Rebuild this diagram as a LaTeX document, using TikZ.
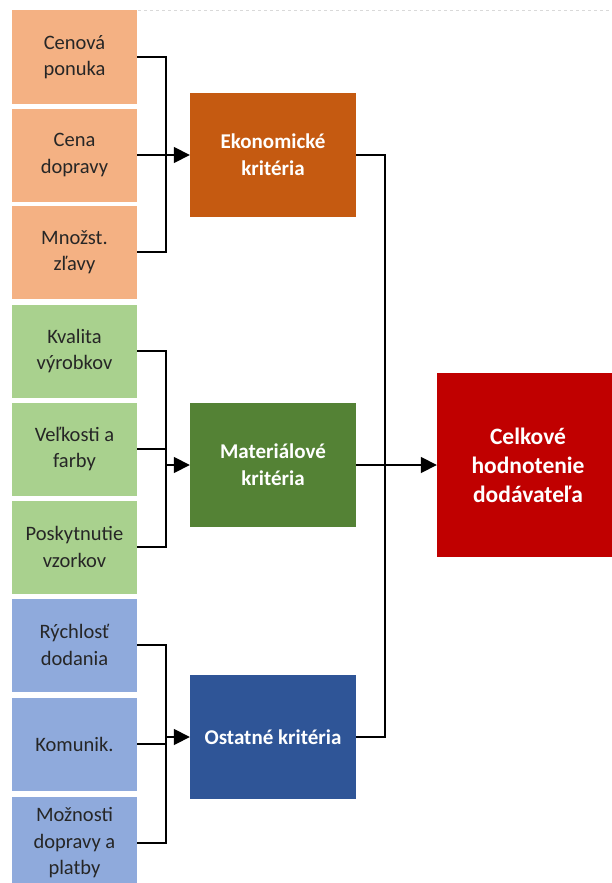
\documentclass[tikz,border=0pt]{standalone}
\usepackage{fontspec}
\setmainfont{Carlito}
\usepackage{tikz}
\usetikzlibrary{arrows.meta}
\definecolor{econlight}{HTML}{F4B183}
\definecolor{matlight}{HTML}{A9D18E}
\definecolor{othlight}{HTML}{8FAADC}
\definecolor{econdark}{HTML}{C55A11}
\definecolor{matdark}{HTML}{548235}
\definecolor{othdark}{HTML}{2F5597}
\definecolor{totalred}{HTML}{C00000}

\begin{document}
\begin{tikzpicture}
	[x=1pt,y=-1pt,
	 leaf/.style={minimum width=125pt,minimum height=93pt,inner sep=0pt,align=center,
	   text=black!85,font=\fontsize{20.5}{26.5}\selectfont},
	 crit/.style={minimum width=166pt,minimum height=124pt,inner sep=0pt,align=center,
	   text=white,font=\fontsize{21}{27}\selectfont\bfseries},
	 wire/.style={line width=1.7pt},
	 tip/.style={wire,-{Triangle[length=16pt,width=16pt]}}]
\useasboundingbox (0,0) rectangle (611,883);
\fill[white] (0,0) rectangle (611,883);
% faint page edge
\draw[black!15,dashed,line width=0.6pt] (12,10) -- (611,10);
% left column
\node[leaf,fill=econlight] (c1) at (74.5,57) {Cenová\\ponuka};
\node[leaf,fill=econlight] (c2) at (74.5,155) {Cena\\dopravy};
\node[leaf,fill=econlight] (c3) at (74.5,252) {Množst.\\zľavy};
\node[leaf,fill=matlight] (c4) at (74.5,351) {Kvalita\\výrobkov};
\node[leaf,fill=matlight] (c5) at (74.5,449) {Veľkosti a\\farby};
\node[leaf,fill=matlight] (c6) at (74.5,547) {Poskytnutie\\vzorkov};
\node[leaf,fill=othlight] (c7) at (74.5,645) {Rýchlosť\\dodania};
\node[leaf,fill=othlight] (c8) at (74.5,744) {Komunik.};
\node[leaf,fill=othlight] (c9) at (74.5,843) {Možnosti\\dopravy a\\platby};
% middle column
\node[crit,fill=econdark] (econ) at (273,155) {Ekonomické\\kritéria};
\node[crit,fill=matdark] (mat) at (273,465) {Materiálové\\kritéria};
\node[crit,fill=othdark] (oth) at (273,737) {Ostatné kritéria};
% result
\node[crit,fill=totalred,minimum width=182pt,minimum height=184pt,
	font=\fontsize{23.5}{29}\selectfont\bfseries] (total) at (528,465)
	{Celkové\\hodnotenie\\dodávateľa};
% brackets
\foreach \a/\b/\c/\d in {c1/c2/c3/econ, c4/c5/c6/mat, c7/c8/c9/oth}
{
\draw[wire] (\a.east) -- ++(29,0) |- (\c.east);
\draw[wire] (\b.east) -- ++(29,0);
\draw[tip] (\d.west) ++(-24,0) -- (\d.west);
}
\draw[wire] (econ.east) -- ++(29,0) |- (oth.east);
\draw[tip] (mat.east) -- (total.west);
\end{tikzpicture}
\end{document}
